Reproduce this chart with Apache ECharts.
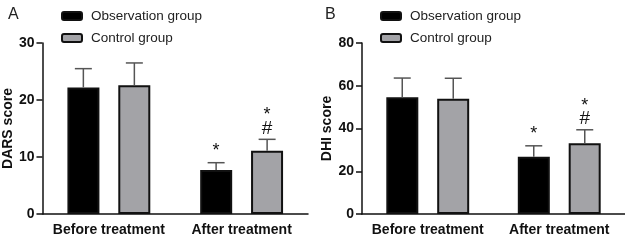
<!DOCTYPE html>
<html>
<head>
<meta charset="utf-8">
<script src="https://cdn.jsdelivr.net/npm/echarts@6/dist/echarts.min.js"></script>
<style>
html, body { margin: 0; padding: 0; background: #fff; }
#chart { width: 625px; height: 241px; }
</style>
</head>
<body>
<div id="chart"></div>
<script>
// data
const categories = ['Before treatment', 'After treatment']
const groupNames = ['Observation group', 'Control group']

const darsObs = [22.2, 7.7]
const darsObsSd = [3.3, 1.3]
const darsCtrl = [22.6, 11.1]
const darsCtrlSd = [3.9, 2.0]

const dhiObs = [54.6, 26.8]
const dhiObsSd = [9.0, 5.1]
const dhiCtrl = [53.9, 33.1]
const dhiCtrlSd = [9.6, 6.3]

const darsTicks = [0, 30, 10]
const dhiTicks = [0, 80, 20]

// significance marks above the bars
const obsMarks = ['', '*']
const ctrlMarks = ['', '*#']

const font = 'Liberation Sans, Arial, sans-serif'
const ctrlColor = '#a3a3a7'
const barW = 32
const half = 25.5

const charts = echarts.init(document.getElementById('chart'))

function errorSeries (gridIdx, means, sds, marks, sign) {
  return {
    type: 'custom',
    xAxisIndex: gridIdx,
    yAxisIndex: gridIdx,
    z: 5,
    silent: true,
    data: means.map((m, i) => [i, m, sds[i]]),
    renderItem (params, api) {
      const i = api.value(0)
      const top = api.coord([i, api.value(1) + api.value(2)])
      const base = api.coord([i, api.value(1)])
      const x = top[0] + sign * half
      const children = [
        { type: 'line', shape: { x1: x, y1: base[1], x2: x, y2: top[1] }, style: { stroke: '#555', lineWidth: 1.5 } },
        { type: 'line', shape: { x1: x - 8.5, y1: top[1], x2: x + 8.5, y2: top[1] }, style: { stroke: '#555', lineWidth: 1.5 } }
      ]
      const mk = marks[params.dataIndex]
      if (mk === '*') {
        children.push({ type: 'text', style: { text: '*', x: x, y: top[1] - 12, fontSize: 18, fontFamily: font, fill: '#111', align: 'center', verticalAlign: 'middle' } })
      } else if (mk === '*#') {
        children.push({ type: 'text', style: { text: '#', x: x, y: top[1] - 11, fontSize: 19, fontFamily: font, fill: '#111', align: 'center', verticalAlign: 'middle' } })
        children.push({ type: 'text', style: { text: '*', x: x, y: top[1] - 24, fontSize: 18, fontFamily: font, fill: '#111', align: 'center', verticalAlign: 'middle' } })
      }
      return { type: 'group', children }
    }
  }
}

function xAx (gridIdx) {
  return {
    type: 'category',
    gridIndex: gridIdx,
    data: categories,
    axisLine: { lineStyle: { color: '#111', width: 1.5 } },
    axisTick: { alignWithLabel: true, length: 6, lineStyle: { color: '#111', width: 1.5 } },
    axisLabel: { interval: 0, hideOverlap: false, color: '#111', fontSize: 14, fontWeight: 'bold', fontFamily: font, margin: 9 }
  }
}

function yAx (gridIdx, name, ticks) {
  return {
    type: 'value',
    gridIndex: gridIdx,
    min: ticks[0],
    max: ticks[1],
    interval: ticks[2],
    name: name,
    nameLocation: 'middle',
    nameGap: 22,
    nameTextStyle: { color: '#111', fontSize: 14, fontWeight: 'bold', fontFamily: font },
    splitLine: { show: false },
    axisLine: { show: true, lineStyle: { color: '#111', width: 1.5 } },
    axisTick: { show: true, length: 6, lineStyle: { color: '#111', width: 1.5 } },
    axisLabel: { color: '#111', fontSize: 14, fontWeight: 'bold', fontFamily: font, margin: 8 }
  }
}

function legend (left) {
  return {
    data: groupNames,
    orient: 'vertical',
    left: left,
    top: 3,
    itemWidth: 20,
    itemHeight: 8,
    itemGap: 6,
    selectedMode: false,
    textStyle: { color: '#222', fontSize: 13.5, fontFamily: font, lineHeight: 16, padding: [0, 0, 0, 4] }
  }
}

function barSeries (gridIdx, name, values, color) {
  return {
    name: name,
    type: 'bar',
    xAxisIndex: gridIdx,
    yAxisIndex: gridIdx,
    barWidth: barW,
    barGap: '59%',
    data: values,
    itemStyle: { color: color, borderColor: '#111', borderWidth: 2 }
  }
}

const options = {
  animation: false,
  backgroundColor: '#fff',
  title: [
    { text: 'A', left: 3, top: 2, textStyle: { fontSize: 16, fontWeight: 'normal', color: '#222', fontFamily: font } },
    { text: 'B', left: 320, top: 2, textStyle: { fontSize: 16, fontWeight: 'normal', color: '#222', fontFamily: font } }
  ],
  legend: [legend(56), legend(375)],
  grid: [
    { left: 42, right: 317, top: 43, bottom: 27 },
    { left: 362, right: -3, top: 43, bottom: 27 }
  ],
  xAxis: [xAx(0), xAx(1)],
  yAxis: [yAx(0, 'DARS score', darsTicks), yAx(1, 'DHI score', dhiTicks)],
  series: [
    barSeries(0, groupNames[0], darsObs, '#000'),
    barSeries(0, groupNames[1], darsCtrl, ctrlColor),
    barSeries(1, groupNames[0], dhiObs, '#000'),
    barSeries(1, groupNames[1], dhiCtrl, ctrlColor),
    errorSeries(0, darsObs, darsObsSd, obsMarks, -1),
    errorSeries(0, darsCtrl, darsCtrlSd, ctrlMarks, 1),
    errorSeries(1, dhiObs, dhiObsSd, obsMarks, -1),
    errorSeries(1, dhiCtrl, dhiCtrlSd, ctrlMarks, 1)
  ]
}
charts.setOption(options)
</script>
</body>
</html>
